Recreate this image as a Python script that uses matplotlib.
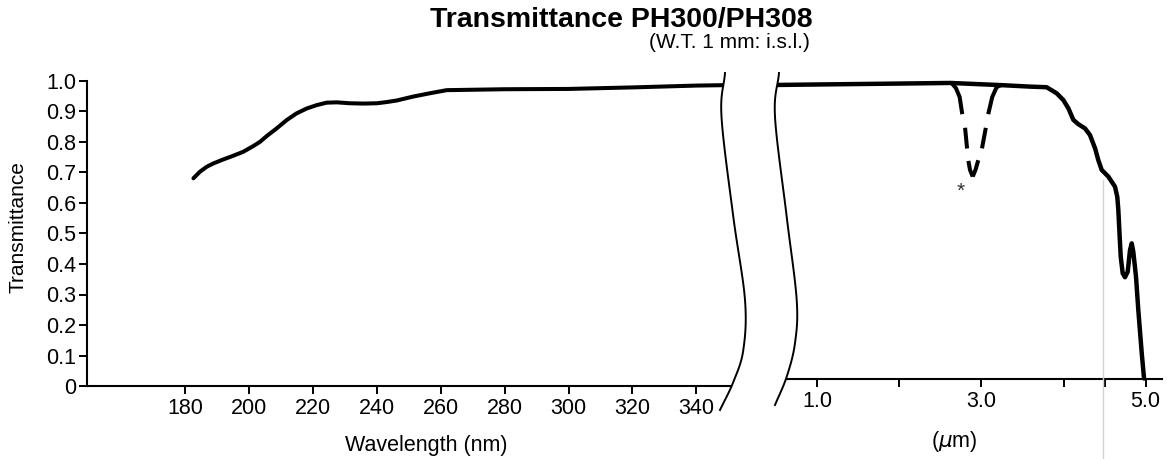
import numpy as np
import matplotlib
matplotlib.use("Agg")
import matplotlib.pyplot as plt
from matplotlib.lines import Line2D
from matplotlib.patches import Polygon

plt.rcParams['font.family'] = ['Liberation Sans', 'DejaVu Sans']
plt.rcParams['lines.scale_dashes'] = False

# ---------------- data ----------------
nm_uv = [182.6, 184.7, 186.8, 188.9, 192.0, 195.1, 198.2, 201.4, 203.5, 205.6,
         208.7, 211.8, 214.9, 218.1, 221.2, 224.3, 227.5, 231.6, 235.8, 240.0,
         243.1, 246.2, 251.4, 256.7, 261.9, 280.0, 300.0, 320.0, 340.0, 359.0]
T_uv = [0.681, 0.703, 0.719, 0.730, 0.743, 0.755, 0.768, 0.787, 0.801, 0.820,
        0.845, 0.872, 0.894, 0.910, 0.921, 0.929, 0.930, 0.927, 0.926, 0.927,
        0.931, 0.936, 0.949, 0.960, 0.970, 0.973, 0.974, 0.979, 0.985, 0.988]

um_ir = [0.364, 1.0, 2.0, 2.62, 3.23, 3.592, 3.795, 3.917, 3.998, 4.059, 4.120,
         4.180, 4.262, 4.323, 4.384, 4.424, 4.465, 4.546, 4.627, 4.655, 4.668,
         4.680, 4.697, 4.721, 4.749, 4.782, 4.810, 4.831, 4.850, 4.883, 4.911,
         4.953, 4.981]
T_ir = [0.962, 0.964, 0.967, 0.969, 0.962, 0.957, 0.955, 0.935, 0.913, 0.886,
        0.848, 0.834, 0.820, 0.798, 0.755, 0.716, 0.684, 0.662, 0.629, 0.596,
        0.552, 0.487, 0.399, 0.345, 0.332, 0.350, 0.421, 0.443, 0.416, 0.334,
        0.225, 0.083, 0.0]

# water absorption dip (dashed), two branches from the top down to the minimum
dip_left_um = [2.640, 2.690, 2.735, 2.765, 2.800, 2.825, 2.840, 2.861, 2.894]
dip_left_T = [0.968, 0.952, 0.923, 0.870, 0.825, 0.756, 0.716, 0.684, 0.662]
dip_right_um = [3.240, 3.185, 3.132, 3.086, 3.056, 3.004, 2.962, 2.928, 2.894]
dip_right_T = [0.962, 0.955, 0.923, 0.870, 0.825, 0.750, 0.716, 0.684, 0.662]

y_ticks = [0, 0.1, 0.2, 0.3, 0.4, 0.5, 0.6, 0.7, 0.8, 0.9, 1.0]
y_labels = ['0', '0.1', '0.2', '0.3', '0.4', '0.5', '0.6', '0.7', '0.8', '0.9', '1.0']
x_ticks_nm = [180, 200, 220, 240, 260, 280, 300, 320, 340]
x_ticks_um = [1.0, 2.0, 3.0, 4.0, 4.5, 5.0]
x_labels_um = ['1.0', '', '3.0', '', '', '5.0']

# ---------------- figure ----------------
W, H = 1167, 459
fig = plt.figure(figsize=(W / 100, H / 100), dpi=100)
fig.patch.set_facecolor('white')


def fx(px):
    return px / W


def fy(py):
    return 1 - py / H


LW = 2.9
FS = 15.5

axL = fig.add_axes([fx(87), fy(386), fx(760) - fx(87), 305 / H])
axR = fig.add_axes([fx(765), fy(378.5), fx(1162) - fx(765), 305 / H])

for ax in (axL, axR):
    ax.set_ylim(0, 1.0)
    ax.set_facecolor('none')
    for s in ('top', 'right'):
        ax.spines[s].set_visible(False)
    ax.spines['bottom'].set_linewidth(1.5)
    ax.tick_params(axis='x', direction='out', length=6, width=1.4, pad=3,
                   labelsize=FS)

axL.set_xlim(149.3, 180 + (760 - 185) / 3.196)
axR.set_xlim(1 + (765 - 817.2) / 82.1, 1 + (1162 - 817.2) / 82.1)

axL.spines['left'].set_linewidth(1.5)
axL.set_yticks(y_ticks)
axL.set_yticklabels(y_labels)
axL.tick_params(axis='y', direction='out', length=6, width=1.4, pad=2,
                labelsize=FS)
axL.set_xticks(x_ticks_nm)
axL.set_xticklabels([str(v) for v in x_ticks_nm])

axR.spines['left'].set_visible(False)
axR.set_yticks([])
axR.set_xticks(x_ticks_um)
axR.set_xticklabels(x_labels_um)

axL.plot(nm_uv, T_uv, color='black', lw=LW, solid_capstyle='round',
         solid_joinstyle='round', clip_on=False)
axR.plot(um_ir, T_ir, color='black', lw=LW + 0.3, solid_capstyle='round',
         solid_joinstyle='round', clip_on=False)

dash = (0, (24, 10, 15, 9, 40))
axR.plot(dip_left_um, dip_left_T, color='black', lw=LW, linestyle=dash,
         dash_joinstyle='round', clip_on=False)
axR.plot(dip_right_um, dip_right_T, color='black', lw=LW, linestyle=dash,
         dash_joinstyle='round', clip_on=False)
axR.text(2.75, 0.615, '*', ha='center', va='center', fontsize=15,
         color='#333333')


# ---------------- axis break (decoration in figure pixels) ----------------
def smooth(pts, n=20):
    P = np.array(pts, float)
    P = np.vstack([2 * P[0] - P[1], P, 2 * P[-1] - P[-2]])
    out = []
    t = np.linspace(0, 1, n, endpoint=False)[:, None]
    for i in range(1, len(P) - 2):
        p0, p1, p2, p3 = P[i - 1], P[i], P[i + 1], P[i + 2]
        out.append(0.5 * ((2 * p1) + (-p0 + p2) * t
                          + (2 * p0 - 5 * p1 + 4 * p2 - p3) * t ** 2
                          + (-p0 + 3 * p1 - 3 * p2 + p3) * t ** 3))
    out.append(P[-2][None])
    return np.vstack(out)


brk_left = smooth([(725, 73), (721.5, 116.7), (733.3, 216.7), (745, 300),
                   (743.3, 350), (733.3, 382), (720, 410)])
brk_right = smooth([(779, 73), (775, 116.7), (786.7, 216.7), (796.7, 300),
                    (795, 343), (786.7, 376.7), (775, 405)])


def to_fig(P):
    return np.column_stack([P[:, 0] / W, 1 - P[:, 1] / H])


band = np.vstack([to_fig(brk_left), to_fig(brk_right)[::-1]])
fig.patches.append(Polygon(band, closed=True, facecolor='white',
                           edgecolor='none', transform=fig.transFigure,
                           zorder=5))
for P in (brk_left, brk_right):
    Q = to_fig(P)
    fig.lines.append(Line2D(Q[:, 0], Q[:, 1], color='black', lw=1.4,
                            transform=fig.transFigure, zorder=6))

# faint vertical scan line
fig.lines.append(Line2D([fx(1103), fx(1103)], [fy(180), fy(459)],
                        color='#d2d2d2', lw=1.0, transform=fig.transFigure,
                        zorder=1))

# ---------------- texts ----------------
fig.text(fx(621.5), fy(26.5), 'Transmittance PH300/PH308', ha='center',
         va='baseline', fontsize=20.5, fontweight='bold')
fig.text(fx(810), fy(48), '(W.T. 1 mm: i.s.l.)', ha='right',
         va='baseline', fontsize=15)
fig.text(fx(18), fy(227), 'Transmittance', rotation=90, ha='center',
         va='center', fontsize=15)
fig.text(fx(426), fy(451.5), 'Wavelength (nm)', ha='center', va='baseline',
         fontsize=15.5)
fig.text(fx(954), fy(447), '($\\mu$m)', ha='center', va='baseline',
         fontsize=15.5)

fig.savefig('out.png', dpi=100, facecolor='white')
